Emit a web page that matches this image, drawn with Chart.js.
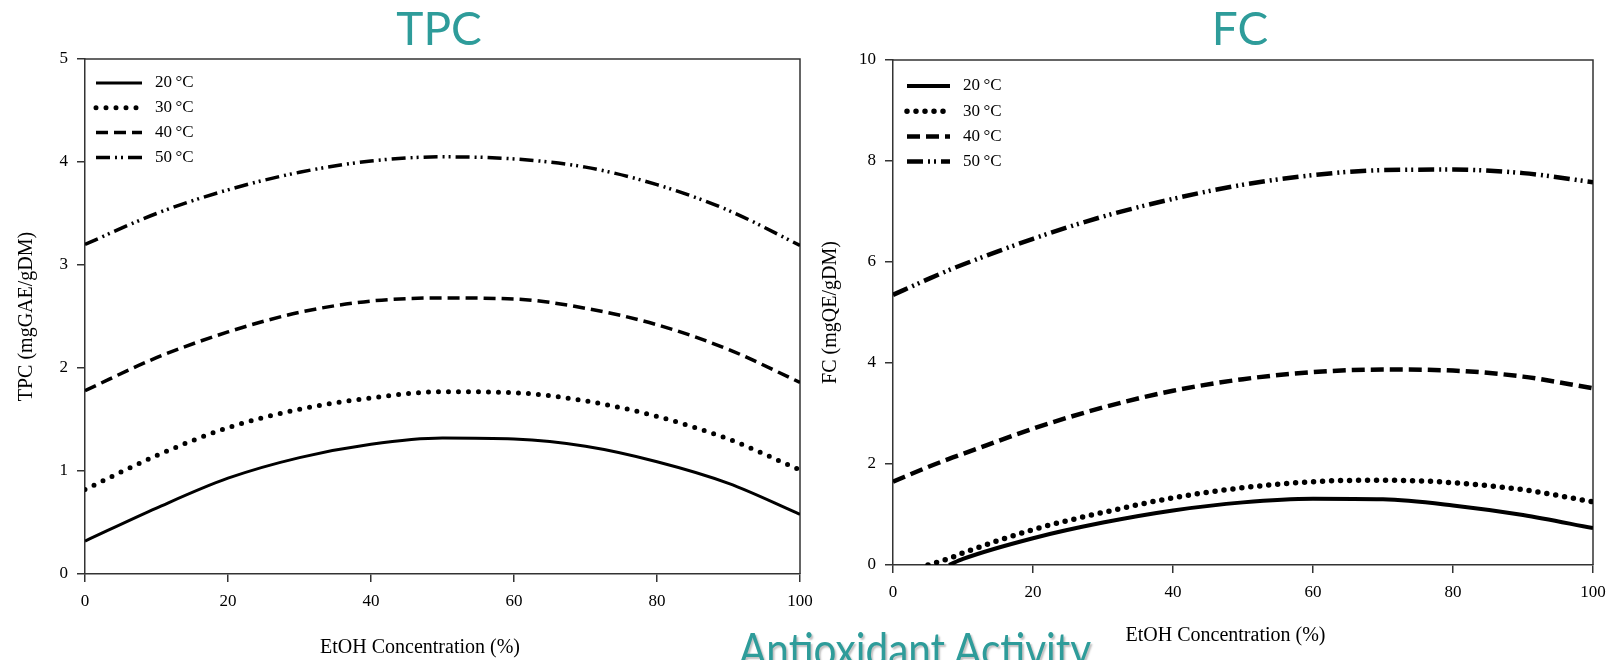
<!DOCTYPE html>
<html>
<head>
<meta charset="utf-8">
<script src="https://cdn.jsdelivr.net/npm/chart.js@4.4.1/dist/chart.umd.min.js"></script>
<style>
    html, body { margin: 0; padding: 0; background: #fff; overflow: hidden; }
    body { width: 1613px; height: 660px; position: relative; }
    .box { position: absolute; top: 0; height: 660px; }
    #tpc-box { left: 0; width: 878px; }
    #fc-box { left: 810px; width: 860px; }
    .caption {
        position: absolute; left: 739px; top: 626px; margin: 0;
        font: 46px Lato, sans-serif; line-height: 1; white-space: nowrap;
        color: #2E9C9A; text-shadow: 2px 2px 2px rgba(0, 0, 0, 0.25);
        transform: scaleX(0.88); transform-origin: left top;
    }
</style>
</head>
<body>
<div class="box" id="tpc-box"><canvas id="tpc"></canvas></div>
<div class="box" id="fc-box"><canvas id="fc"></canvas></div>
<p class="caption">Antioxidant Activity</p>

<script>
// Data
const seriesLabels = ['20\u2009°C', '30\u2009°C', '40\u2009°C', '50\u2009°C']

const tpcX = [0, 10, 20, 30, 40, 50, 60, 70, 80, 90, 100]
const tpc20 = [0.32, 0.64, 0.93, 1.13, 1.26, 1.32, 1.31, 1.24, 1.09, 0.88, 0.58]
const tpc30 = [0.82, 1.15, 1.42, 1.60, 1.71, 1.77, 1.76, 1.68, 1.53, 1.31, 1.01]
const tpc40 = [1.78, 2.10, 2.35, 2.54, 2.65, 2.68, 2.67, 2.58, 2.42, 2.18, 1.86]
const tpc50 = [3.20, 3.50, 3.73, 3.90, 4.01, 4.05, 4.03, 3.95, 3.78, 3.53, 3.19]

const fcX = [0, 5, 8, 10, 20, 30, 40, 50, 60, 70, 80, 90, 100]
const fc20 = [null, null, 0, 0.12, 0.53, 0.84, 1.08, 1.24, 1.31, 1.30, 1.18, 0.99, 0.73]
const fc30 = [null, 0, 0.13, 0.24, 0.70, 1.04, 1.33, 1.53, 1.65, 1.68, 1.63, 1.49, 1.25]
const fc40 = [1.65, 1.94, 2.10, 2.20, 2.70, 3.12, 3.45, 3.68, 3.82, 3.87, 3.85, 3.73, 3.50]
const fc50 = [5.35, 5.66, 5.84, 5.95, 6.46, 6.90, 7.25, 7.53, 7.72, 7.82, 7.83, 7.76, 7.58]

const xTicks = [0, 20, 40, 60, 80, 100]
const tpcTicks = [0, 1, 2, 3, 4, 5]
const fcTicks = [0, 2, 4, 6, 8, 10]

const teal = '#2E9C9A'
const axisColor = '#333'
const serif = '"Liberation Serif", "Times New Roman", serif'
const nbsp = n => '\u00a0'.repeat(n)

// legend drawn inside the plot, using each dataset's own line style
const insideLegend = {
    id: 'insideLegend',
    afterDatasetsDraw(chart, args, opts) {
        let { ctx, chartArea } = chart
        ctx.save()
        chart.data.datasets.forEach((ds, i) => {
            let y = chartArea.top + opts.top + i * opts.step
            let x = chartArea.left + opts.left
            ctx.beginPath()
            ctx.lineWidth = ds.borderWidth
            ctx.lineCap = ds.borderCapStyle || 'butt'
            ctx.setLineDash(ds.borderDash || [])
            ctx.strokeStyle = ds.borderColor
            ctx.moveTo(x, y)
            ctx.lineTo(x + opts.width, y)
            ctx.stroke()
            ctx.setLineDash([])
            ctx.fillStyle = '#000'
            ctx.font = '17px ' + serif
            ctx.textBaseline = 'middle'
            ctx.fillText(ds.label, chartArea.left + opts.textLeft, y)
        })
        ctx.restore()
    }
}

// top and right edges of the frame
const frame = {
    id: 'frame',
    beforeDatasetsDraw(chart) {
        let { ctx, chartArea } = chart
        ctx.save()
        ctx.strokeStyle = axisColor
        ctx.lineWidth = 1.5
        ctx.beginPath()
        ctx.moveTo(chartArea.left, chartArea.top)
        ctx.lineTo(chartArea.right, chartArea.top)
        ctx.lineTo(chartArea.right, chartArea.bottom)
        ctx.stroke()
        ctx.restore()
    }
}

function makeData(xs, rows, styles) {
    return rows.map((row, i) => ({
        label: seriesLabels[i],
        data: xs.map((x, j) => ({ x: x, y: row[j] })),
        borderColor: '#000',
        borderWidth: styles[i].width,
        borderDash: styles[i].dash,
        borderCapStyle: styles[i].cap || 'butt',
        pointRadius: 0,
        fill: false,
        cubicInterpolationMode: 'monotone'
    }))
}

function axis(ticks, titleText, titlePadding, fit) {
    return {
        type: 'linear',
        min: ticks[0],
        max: ticks[ticks.length - 1],
        afterBuildTicks: scale => { scale.ticks = ticks.map(v => ({ value: v })) },
        afterFit: fit,
        grid: { drawOnChartArea: false, drawTicks: true, tickLength: 8, color: axisColor, lineWidth: 1.5 },
        border: { color: axisColor, width: 1.5 },
        ticks: { color: '#000', padding: 9, font: { family: serif, size: 17 } },
        title: {
            display: true,
            text: titleText,
            color: '#000',
            padding: titlePadding,
            font: { family: serif, size: 20, lineHeight: 1.2 }
        }
    }
}

function makeChart(canvas, o) {
    return new Chart(canvas, {
        type: 'line',
        data: { datasets: o.datasets },
        options: {
            responsive: true,
            maintainAspectRatio: false,
            animation: false,
            layout: { padding: 0 },
            scales: {
                x: axis(xTicks, 'EtOH Concentration (%)' + nbsp(o.xTitleShift), { top: 0, bottom: o.xTitlePad }, s => { s.height = o.xHeight }),
                y: axis(o.yTicks, o.yTitle, { top: o.yTitlePad, bottom: 0 }, s => { s.width = o.yWidth }),
                // empty right-hand strip so the title stays centred on the whole canvas
                spacer: {
                    type: 'linear',
                    position: 'right',
                    grid: { display: false },
                    border: { display: false },
                    ticks: { display: false },
                    afterFit: s => { s.width = o.rightWidth }
                }
            },
            plugins: {
                legend: { display: false },
                tooltip: { enabled: false },
                title: {
                    display: true,
                    text: o.title,
                    color: teal,
                    font: { family: 'Lato, sans-serif', size: 46, weight: 'normal', lineHeight: 1 },
                    padding: { top: 7, bottom: o.titleBottom }
                },
                insideLegend: o.legend
            }
        },
        plugins: [insideLegend, frame]
    })
}

makeChart(document.querySelector('#tpc'), {
    title: 'TPC',
    titleBottom: 6,
    datasets: makeData(tpcX, [tpc20, tpc30, tpc40, tpc50], [
        { width: 3, dash: [] },
        { width: 5, dash: [0, 10], cap: 'round' },
        { width: 3.5, dash: [12, 6] },
        { width: 3.5, dash: [14, 5, 2, 4, 2, 5] }
    ]),
    yTicks: tpcTicks,
    yTitle: 'TPC (mgGAE/gDM)',
    yTitlePad: 15,
    yWidth: 85,
    xHeight: 86,
    xTitlePad: 0,
    xTitleShift: 9,
    rightWidth: 78,
    legend: { left: 11, width: 46, textLeft: 70, top: 24, step: 24.8 }
})

makeChart(document.querySelector('#fc'), {
    title: 'FC',
    titleBottom: 7,
    datasets: makeData(fcX, [fc20, fc30, fc40, fc50], [
        { width: 4, dash: [] },
        { width: 5.5, dash: [0, 9], cap: 'round' },
        { width: 4.5, dash: [13, 6] },
        { width: 4.5, dash: [16, 5, 2, 4, 2, 5] }
    ]),
    yTicks: fcTicks,
    yTitle: 'FC (mgQE/gDM)',
    yTitlePad: 9,
    yWidth: 83,
    xHeight: 95,
    xTitlePad: 12,
    xTitleShift: 7,
    rightWidth: 77,
    legend: { left: 14, width: 43, textLeft: 70, top: 26, step: 25.2 }
})
</script>
</body>
</html>
